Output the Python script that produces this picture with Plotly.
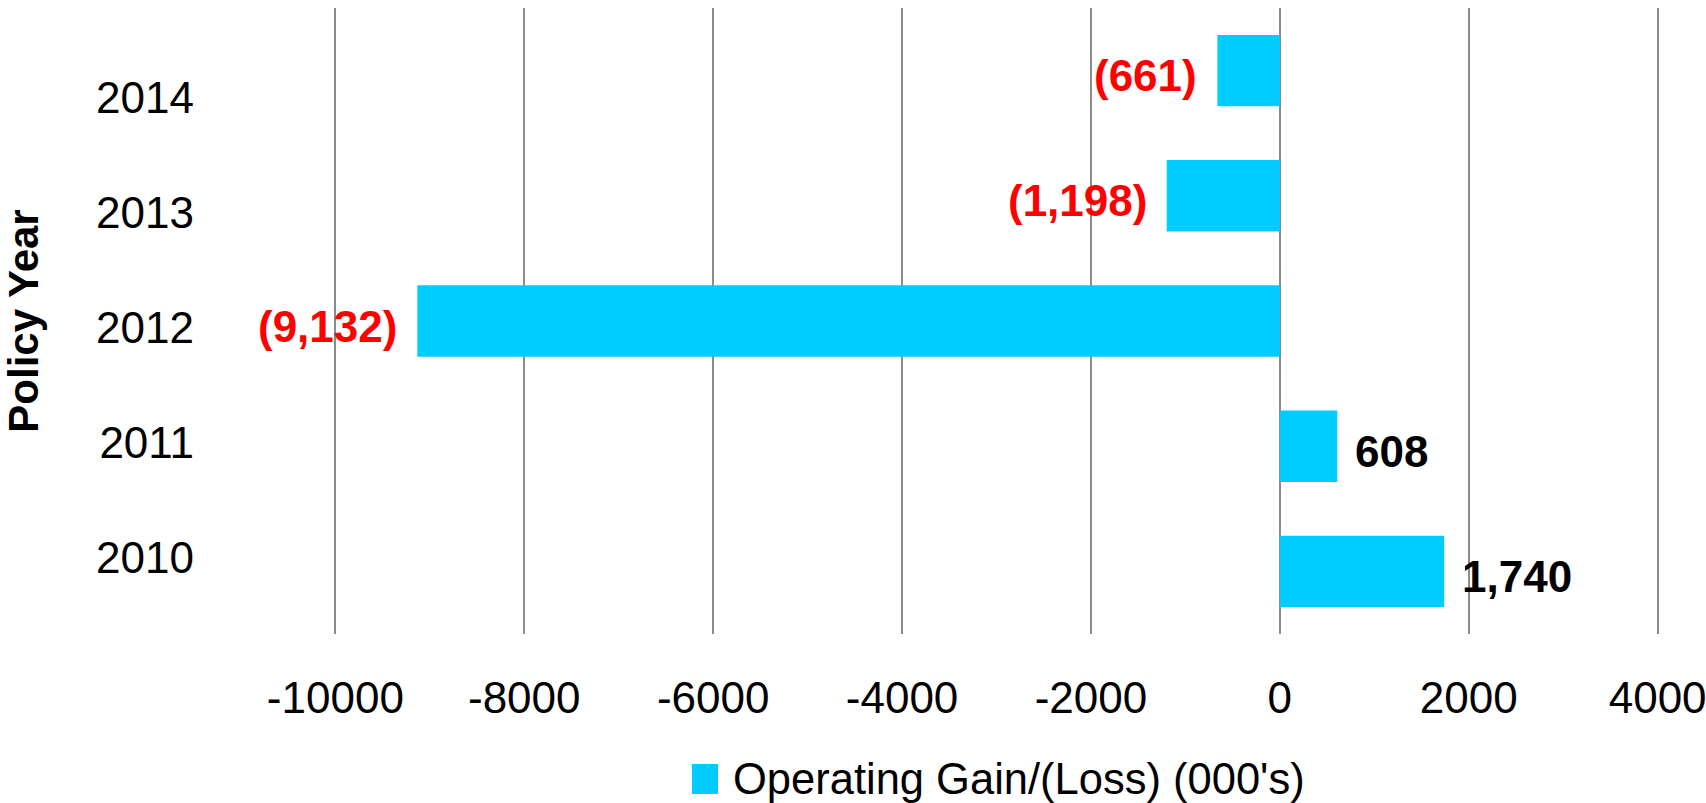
import plotly.graph_objects as go

# Operating result per policy year, in thousands
years = ["2010", "2011", "2012", "2013", "2014"]
gain_loss = [1740, 608, -9132, -1198, -661]
x_ticks = [-10000, -8000, -6000, -4000, -2000, 0, 2000, 4000]
series_name = "Operating Gain/(Loss) (000's)"

BAR_COLOR = "#00CCFF"
GRID_COLOR = "#8C8C8C"
FONT = "Liberation Sans, Arial, sans-serif"
W, H = 1706, 803
M_L, M_R, M_T, M_B = 333, 46, 8, 169
X_RANGE = [-10025, 4025]  # slightly past the end ticks so their gridlines are kept


def fmt(v):
    return f"({abs(v):,})" if v < 0 else f"{v:,}"


fig = go.Figure()

fig.add_trace(go.Bar(
    x=gain_loss, y=years, orientation="h",
    marker=dict(color=BAR_COLOR, line=dict(width=0)),
    name=series_name, showlegend=False, hoverinfo="x+y",
))

# invisible companion trace carrying the year labels on the second y axis
fig.add_trace(go.Scatter(
    x=gain_loss, y=years, yaxis="y2", mode="markers",
    marker=dict(opacity=0, size=1), showlegend=False, hoverinfo="skip",
))

# value labels beside each bar: losses in red parentheses, gains in black
for i, v in enumerate(gain_loss):
    neg = v < 0
    fig.add_annotation(
        x=v, y=i, xref="x", yref="y", text=fmt(v), showarrow=False,
        xanchor="right" if neg else "left", xshift=-18 if neg else 16, yshift=-5,
        font=dict(family=FONT, size=44, color="#FF0000" if neg else "#000000",
                  weight="bold"),
    )

# legend entry: swatch + series name
pw = W - M_L - M_R
ph = H - M_T - M_B
def px_x(p):
    return (p - M_L) / pw
def px_y(p):
    return (H - M_B - p) / ph

fig.add_shape(type="rect", xref="paper", yref="paper",
              x0=px_x(692), x1=px_x(718), y0=px_y(794), y1=px_y(764),
              fillcolor=BAR_COLOR, line=dict(width=0))
fig.add_annotation(x=px_x(731), y=px_y(779), xref="paper", yref="paper",
                   text=series_name, showarrow=False, xanchor="left", yanchor="middle",
                   font=dict(family=FONT, size=43.5, color="#000000"))

fig.update_layout(
    width=W, height=H,
    margin=dict(l=M_L, r=M_R, t=M_T, b=M_B, pad=0, autoexpand=False),
    paper_bgcolor="white", plot_bgcolor="white",
    bargap=0.43,
    showlegend=False,
    font=dict(family=FONT, size=44, color="#000000"),
    xaxis=dict(
        range=X_RANGE, tickvals=x_ticks, ticktext=[str(t) for t in x_ticks],
        showgrid=True, gridcolor=GRID_COLOR, gridwidth=2,
        zeroline=True, zerolinecolor=GRID_COLOR, zerolinewidth=2,
        showline=False, ticks="", ticklabelstandoff=34,
        ticklabeloverflow="allow", automargin=False,
        tickfont=dict(family=FONT, size=44, color="#000000"),
        fixedrange=True,
    ),
    yaxis=dict(
        type="category", categoryorder="array", categoryarray=years,
        range=[-0.5, 4.5], showticklabels=False, showgrid=False,
        zeroline=False, showline=False, ticks="", fixedrange=True,
    ),
    yaxis2=dict(
        type="category", categoryorder="array", categoryarray=years,
        overlaying="y", side="left", anchor="x",
        range=[-0.661, 4.783], showgrid=False, zeroline=False, showline=False,
        ticks="", ticklabelstandoff=138, automargin=False,
        tickfont=dict(family=FONT, size=44, color="#000000"),
        title=dict(text="Policy Year", standoff=50,
                   font=dict(family=FONT, size=42, color="#000000", weight="bold")),
        fixedrange=True,
    ),
)

fig.write_html("out.html")
